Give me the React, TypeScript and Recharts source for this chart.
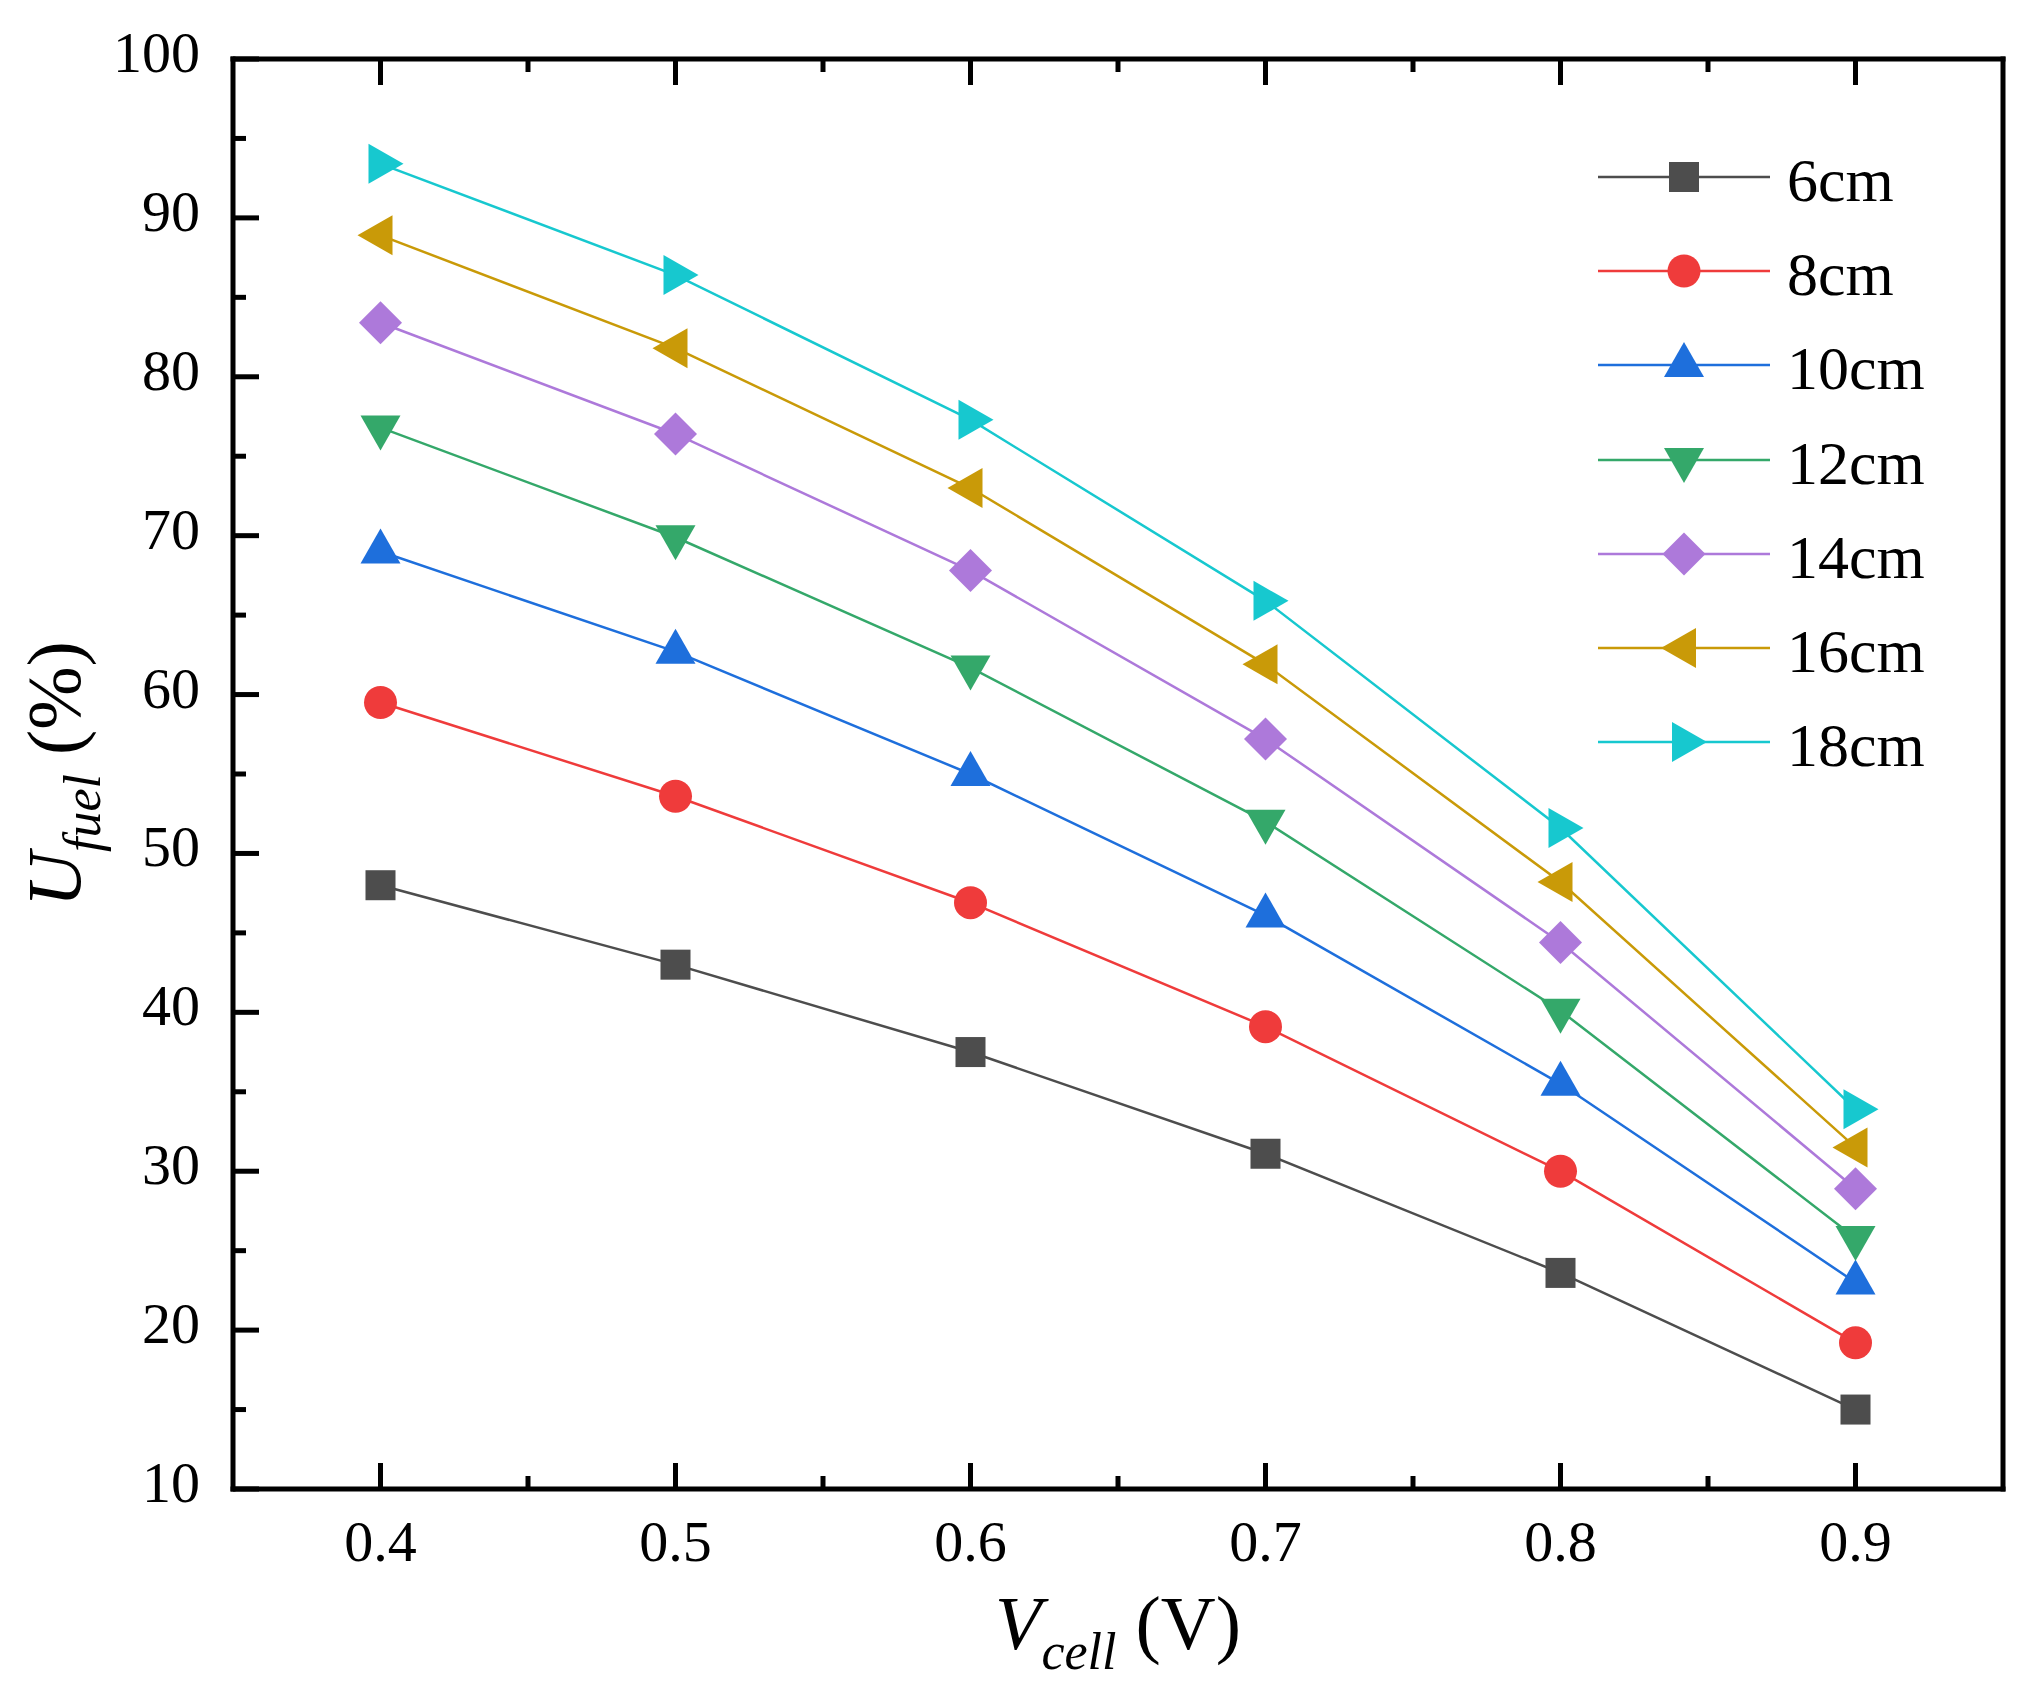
import { Legend, Line, LineChart, XAxis, YAxis } from "recharts"

const voltages = [0.4, 0.5, 0.6, 0.7, 0.8, 0.9]
const u6cm = [48.0, 43.0, 37.5, 31.1, 23.6, 15.0]
const u8cm = [59.5, 53.6, 46.9, 39.1, 30.0, 19.2]
const u10cm = [69.0, 62.7, 55.0, 46.1, 35.5, 23.0]
const u12cm = [76.8, 69.9, 61.7, 52.0, 40.1, 25.8]
const u14cm = [83.4, 76.4, 67.8, 57.2, 44.4, 28.9]
const u16cm = [88.9, 81.8, 73.0, 61.9, 48.2, 31.5]
const u18cm = [93.4, 86.4, 77.3, 65.9, 51.6, 33.9]

const seriesNames = ["6cm", "8cm", "10cm", "12cm", "14cm", "16cm", "18cm"]
const seriesValues = [u6cm, u8cm, u10cm, u12cm, u14cm, u16cm, u18cm]
const seriesColors = ["#4d4d4d", "#ef3b3b", "#1e6fdc", "#34a86a", "#ad79da", "#c99a08", "#17c8cf"]
const seriesShapes = ["square", "circle", "up", "down", "diamond", "left", "right"]

const xMajorTicks = [0.4, 0.5, 0.6, 0.7, 0.8, 0.9]
const xMinorTicks = [0.45, 0.55, 0.65, 0.75, 0.85]
const yMajorTicks = [10, 20, 30, 40, 50, 60, 70, 80, 90, 100]
const yMinorTicks = [15, 25, 35, 45, 55, 65, 75, 85, 95]

const FONT = "'Liberation Serif', 'DejaVu Serif', serif"

const data = voltages.map((v, i) => {
  const row: Record<string, number> = { v }
  seriesNames.forEach((name, s) => {
    row[name] = seriesValues[s][i]
  })
  return row
})

const xTicks = [...xMajorTicks, ...xMinorTicks].sort((a, b) => a - b)
const yTicks = [...yMajorTicks, ...yMinorTicks].sort((a, b) => a - b)

const isMajorX = (v: number) => xMajorTicks.some((t) => Math.abs(t - v) < 1e-6)
const isMajorY = (v: number) => yMajorTicks.some((t) => Math.abs(t - v) < 1e-6)

function Marker({ shape, cx, cy, color }: { shape: string; cx: number; cy: number; color: string }) {
  if (cx == null || cy == null) return null
  switch (shape) {
    case "square":
      return <rect x={cx - 15} y={cy - 15} width={30} height={30} fill={color} />
    case "circle":
      return <circle cx={cx} cy={cy} r={16.5} fill={color} />
    case "up":
      return <polygon points={`${cx},${cy - 23} ${cx + 20},${cy + 12} ${cx - 20},${cy + 12}`} fill={color} />
    case "down":
      return <polygon points={`${cx},${cy + 23} ${cx + 20},${cy - 12} ${cx - 20},${cy - 12}`} fill={color} />
    case "diamond":
      return <polygon points={`${cx},${cy - 21.5} ${cx + 21.5},${cy} ${cx},${cy + 21.5} ${cx - 21.5},${cy}`} fill={color} />
    case "left":
      return <polygon points={`${cx - 23},${cy} ${cx + 12},${cy - 20} ${cx + 12},${cy + 20}`} fill={color} />
    default:
      return <polygon points={`${cx + 23},${cy} ${cx - 12},${cy - 20} ${cx - 12},${cy + 20}`} fill={color} />
  }
}

function BottomTick({ x, y, payload }: any) {
  const major = isMajorX(payload.value)
  return (
    <g>
      <line x1={x} x2={x} y1={y} y2={y - (major ? 26 : 13)} stroke="#000" strokeWidth={5} />
      {major && (
        <text x={x} y={y + 72} textAnchor="middle" fontSize={58} fontFamily={FONT} fill="#000">
          {payload.value.toFixed(1)}
        </text>
      )}
    </g>
  )
}

function TopTick({ x, y, payload }: any) {
  const major = isMajorX(payload.value)
  return <line x1={x} x2={x} y1={y} y2={y + (major ? 26 : 13)} stroke="#000" strokeWidth={5} />
}

function LeftTick({ x, y, payload }: any) {
  const major = isMajorY(payload.value)
  return (
    <g>
      <line x1={x} x2={x + (major ? 26 : 13)} y1={y} y2={y} stroke="#000" strokeWidth={5} />
      {major && (
        <text x={x - 33} y={y + 13} textAnchor="end" fontSize={58} fontFamily={FONT} fill="#000">
          {payload.value}
        </text>
      )}
    </g>
  )
}

function RightTick({ x, y, payload }: any) {
  const major = isMajorY(payload.value)
  return <line x1={x} x2={x - (major ? 26 : 13)} y1={y} y2={y} stroke="#000" strokeWidth={5} />
}

function XTitle({ viewBox }: any) {
  const cx = viewBox.x + viewBox.width / 2
  const cy = viewBox.y + 160
  return (
    <text x={cx} y={cy} textAnchor="middle" fontFamily={FONT} fill="#000">
      <tspan fontSize={76} fontStyle="italic">V</tspan>
      <tspan fontSize={52} fontStyle="italic" dy={20}>cell</tspan>
      <tspan fontSize={76} dy={-20}> (V)</tspan>
    </text>
  )
}

function YTitle({ viewBox }: any) {
  const cx = viewBox.x + 80
  const cy = viewBox.y + viewBox.height / 2
  return (
    <text x={cx} y={cy} textAnchor="middle" fontFamily={FONT} fill="#000" transform={`rotate(-90, ${cx}, ${cy})`}>
      <tspan fontSize={76} fontStyle="italic">U</tspan>
      <tspan fontSize={52} fontStyle="italic" dy={20}>fuel</tspan>
      <tspan fontSize={76} dy={-20}> (%)</tspan>
    </text>
  )
}

function LegendBox() {
  return (
    <div style={{ fontFamily: FONT }}>
      {seriesNames.map((name, i) => (
        <div key={name} style={{ display: "flex", alignItems: "center", height: 94.2 }}>
          <svg width={172} height={94} style={{ display: "block" }}>
            <line x1={0} x2={172} y1={47} y2={47} stroke={seriesColors[i]} strokeWidth={2.5} />
            <Marker shape={seriesShapes[i]} cx={86} cy={47} color={seriesColors[i]} />
          </svg>
          <span style={{ marginLeft: 17, fontSize: 62, color: "#000", lineHeight: 1, paddingTop: 6 }}>{name}</span>
        </div>
      ))}
    </div>
  )
}

const frame = { stroke: "#000", strokeWidth: 5, strokeLinecap: "square" as const }

export default function App() {
  return (
    <div style={{ position: "absolute", left: 0, top: 0, width: 2028, height: 1695, background: "#fff" }}>
      <LineChart width={2028} height={1695} data={data} margin={{ top: 0, right: 0, bottom: 0, left: 0 }}>
        <XAxis
          xAxisId="bottom"
          dataKey="v"
          type="number"
          domain={[0.35, 0.95]}
          ticks={xTicks}
          interval={0}
          height={206}
          tickSize={0}
          tickMargin={0}
          tickLine={false}
          axisLine={frame}
          tick={BottomTick}
          label={<XTitle />}
        />
        <XAxis
          xAxisId="top"
          orientation="top"
          dataKey="v"
          type="number"
          domain={[0.35, 0.95]}
          ticks={xTicks}
          interval={0}
          height={59}
          tickSize={0}
          tickMargin={0}
          tickLine={false}
          axisLine={frame}
          tick={TopTick}
        />
        <YAxis
          yAxisId="left"
          type="number"
          domain={[10, 100]}
          ticks={yTicks}
          interval={0}
          width={233}
          tickSize={0}
          tickMargin={0}
          tickLine={false}
          axisLine={frame}
          tick={LeftTick}
          label={<YTitle />}
        />
        <YAxis
          yAxisId="right"
          orientation="right"
          type="number"
          domain={[10, 100]}
          ticks={yTicks}
          interval={0}
          width={25}
          tickSize={0}
          tickMargin={0}
          tickLine={false}
          axisLine={frame}
          tick={RightTick}
        />
        <Legend
          layout="vertical"
          align="center"
          verticalAlign="middle"
          wrapperStyle={{ left: 1598, top: 130, width: 380 }}
          content={() => <LegendBox />}
        />
        {seriesNames.map((name, s) => (
          <Line
            key={name}
            xAxisId="bottom"
            yAxisId="left"
            dataKey={name}
            name={name}
            stroke={seriesColors[s]}
            strokeWidth={2.5}
            isAnimationActive={false}
            activeDot={false}
            dot={(p: any) => (
              <Marker key={`${name}-${p.index}`} shape={seriesShapes[s]} cx={p.cx} cy={p.cy} color={seriesColors[s]} />
            )}
          />
        ))}
      </LineChart>
    </div>
  )
}
